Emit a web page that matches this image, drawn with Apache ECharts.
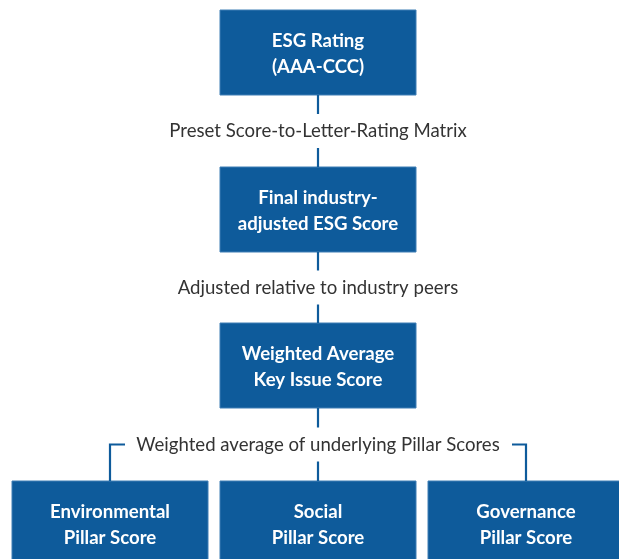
<!DOCTYPE html>
<html>
<head>
<meta charset="utf-8">
<script src="https://cdn.jsdelivr.net/npm/echarts@6/dist/echarts.min.js"></script>
<style>html,body{margin:0;padding:0;background:#fff}#c{width:619px;height:559px}</style>
</head>
<body>
<div id="c"></div>
<script>
const stackBoxes = ['ESG Rating\n(AAA-CCC)', 'Final industry-\nadjusted ESG Score', 'Weighted Average\nKey Issue Score'];
const pillarBoxes = ['Environmental\nPillar Score', 'Social\nPillar Score', 'Governance\nPillar Score'];
const stepLabels = ['Preset Score-to-Letter-Rating Matrix', 'Adjusted relative to industry peers', 'Weighted average of underlying Pillar Scores'];

const BLUE = '#0e5b9b';
const BW = 196, BH = 85, CX = 318;
const topYs = [10, 167, 323];
const pillarY = 481;
const pillarXs = [12, 220, 428];
const boxFont = { fontFamily: 'Lato', fontWeight: 'bold', fontSize: 18.6, lineHeight: 26, fill: '#fff', align: 'center', verticalAlign: 'middle' };
const lblFont = { fontFamily: 'Lato', fontSize: 18.6, fill: '#333', align: 'center', verticalAlign: 'middle' };

const g = [];
function box(x, y, text) {
  g.push({ type: 'rect', shape: { x: x, y: y, width: BW, height: BH }, style: { fill: BLUE, stroke: '#3f7fb5', lineWidth: 1 } });
  g.push({ type: 'text', x: x + BW / 2, y: y + BH / 2 + 1, style: Object.assign({ text: text }, boxFont) });
}
function line(pts) {
  g.push({ type: 'polyline', shape: { points: pts }, style: { stroke: BLUE, lineWidth: 2.2, fill: null } });
}
stackBoxes.forEach((t, i) => box(CX - BW / 2, topYs[i], t));
pillarBoxes.forEach((t, i) => box(pillarXs[i], pillarY, t));

const nextTops = [topYs[1], topYs[2], pillarY];
stepLabels.forEach((t, i) => {
  const yb = topYs[i] + BH, yt = nextTops[i];
  const ym = (yb + yt) / 2;
  line([[CX, yb], [CX, ym - 17]]);
  line([[CX, ym + 17], [CX, yt]]);
  g.push({ type: 'text', x: CX, y: ym, style: Object.assign({ text: t }, lblFont) });
  if (i === stepLabels.length - 1) {
    const lx = pillarXs[0] + BW / 2, rx = pillarXs[2] + BW / 2;
    line([[lx + 15, ym], [lx, ym], [lx, yt]]);
    line([[rx - 14, ym], [rx, ym], [rx, yt]]);
  }
});

const chart = echarts.init(document.getElementById('c'));
chart.setOption({ backgroundColor: '#fff', graphic: { elements: g } });
</script>
</body>
</html>
